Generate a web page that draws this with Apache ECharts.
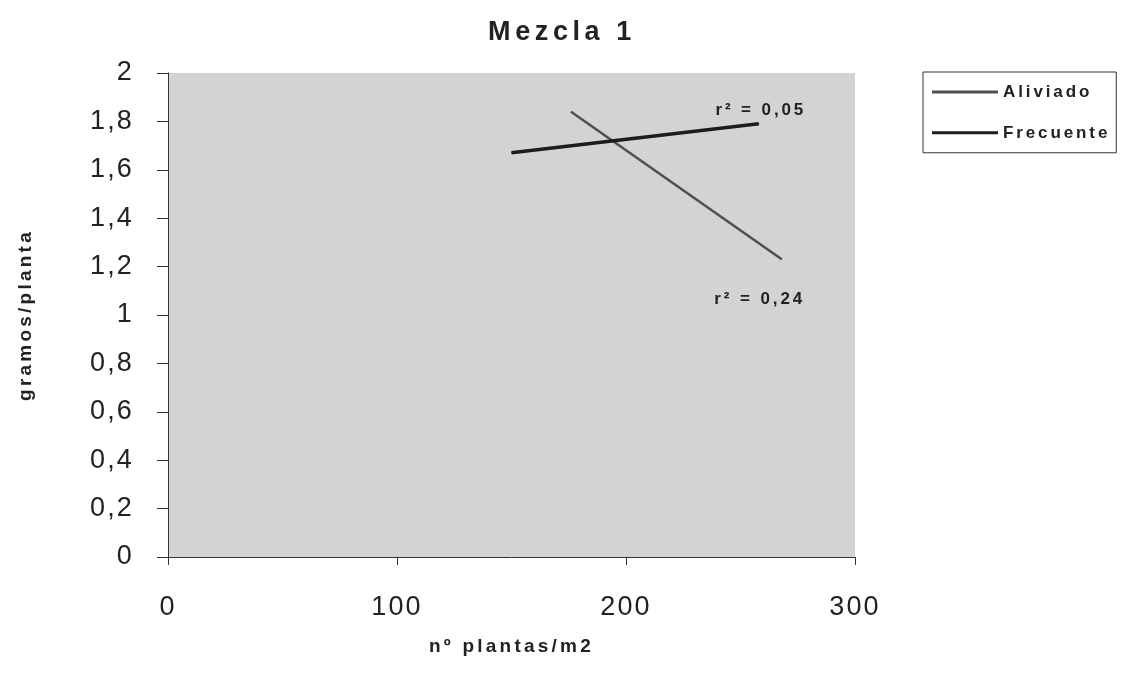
<!DOCTYPE html>
<html>
<head>
<meta charset="utf-8">
<script src="https://cdn.jsdelivr.net/npm/echarts@6/dist/echarts.min.js"></script>
<style>
  html, body { margin: 0; padding: 0; background: #fff; }
  #chart { width: 1124px; height: 692px; }
</style>
</head>
<body>
<div id="chart"></div>
<script>
// Regression lines: plant density (plants/m2) vs. grams per plant
const seriesNames = ['Aliviado', 'Frecuente'];
const aliviadoX = [176, 268];
const aliviadoY = [1.84, 1.23];
const frecuenteX = [150, 258];
const frecuenteY = [1.67, 1.79];
const r2Labels = ['0,24', '0,05'];
const xTicks = [0, 100, 200, 300];
const yTickStep = 0.2;

// Wide tracking for all canvas text, proportional to the font size
(function () {
  const P = CanvasRenderingContext2D.prototype;
  if (!('letterSpacing' in P)) return;
  const track = ctx => {
    const m = /(\d+(?:\.\d+)?)px/.exec(ctx.font);
    const bold = /bold|[6-9]00/.test(ctx.font);
    if (m) ctx.letterSpacing = (parseFloat(m[1]) * (bold ? 0.17 : 0.08)).toFixed(2) + 'px';
  };
  ['fillText', 'strokeText', 'measureText'].forEach(fn => {
    const orig = P[fn];
    P[fn] = function () { track(this); return orig.apply(this, arguments); };
  });
})();

const FONT = "'Liberation Sans', Arial, sans-serif";
const pairs = (xs, ys) => xs.map((x, i) => [x, ys[i]]);

// Only the last point of each line carries its r² note
function withEndLabel(points, text, labelOpt) {
  return points.map((p, i) => i === points.length - 1
    ? { value: p, label: Object.assign({ show: true, formatter: 'r\u00B2 = ' + text }, labelOpt) }
    : { value: p });
}

const chart = echarts.init(document.getElementById('chart'), null, { renderer: 'canvas' });

chart.setOption({
  backgroundColor: '#ffffff',
  animation: false,
  title: {
    text: 'Mezcla 1',
    left: 'center',
    top: 12,
    textStyle: { fontFamily: FONT, fontSize: 27, fontWeight: 'bold', color: '#222' }
  },
  legend: {
    orient: 'vertical',
    left: 923,
    top: 72,
    data: seriesNames,
    icon: 'rect',
    itemWidth: 66,
    itemHeight: 3,
    itemGap: 21,
    padding: [10, 6, 10, 9],
    borderColor: '#333',
    borderWidth: 1,
    textStyle: { fontFamily: FONT, fontSize: 17, fontWeight: 'bold', color: '#222' }
  },
  grid: {
    left: 168, top: 73, right: 269, bottom: 135,
    show: true,
    backgroundColor: '#d3d3d3',
    borderWidth: 0
  },
  xAxis: {
    type: 'value',
    min: xTicks[0],
    max: xTicks[xTicks.length - 1],
    interval: xTicks[1] - xTicks[0],
    name: 'n\u00BA plantas/m2',
    nameLocation: 'middle',
    nameGap: 79,
    nameTextStyle: { fontFamily: FONT, fontSize: 19, fontWeight: 'bold', color: '#222' },
    axisLine: { show: true, lineStyle: { color: '#333', width: 1 } },
    axisTick: { show: true, length: 8, lineStyle: { color: '#333' } },
    axisLabel: { margin: 36, fontFamily: FONT, fontSize: 27, color: '#222' },
    splitLine: { show: false }
  },
  yAxis: {
    type: 'value',
    min: 0,
    max: 2,
    interval: yTickStep,
    name: 'gramos/planta',
    nameLocation: 'middle',
    nameGap: 131,
    nameTextStyle: { fontFamily: FONT, fontSize: 19, fontWeight: 'bold', color: '#222' },
    axisLine: { show: true, lineStyle: { color: '#333', width: 1 } },
    axisTick: { show: true, length: 11, lineStyle: { color: '#333' } },
    axisLabel: {
      margin: 34, fontFamily: FONT, fontSize: 27, color: '#222',
      formatter: v => String(+v.toFixed(1)).replace('.', ',')
    },
    splitLine: { show: false }
  },
  series: [
    {
      name: seriesNames[0],
      type: 'line',
      symbol: 'circle',
      symbolSize: 1,
      showSymbol: true,
      color: '#505050',
      itemStyle: { color: '#505050' },
      lineStyle: { color: '#505050', width: 2.5 },
      data: withEndLabel(pairs(aliviadoX, aliviadoY), r2Labels[0], {
        position: 'bottom', distance: 30, offset: [-22, 0],
        fontFamily: FONT, fontSize: 17, fontWeight: 'bold', color: '#222'
      })
    },
    {
      name: seriesNames[1],
      type: 'line',
      symbol: 'circle',
      symbolSize: 1,
      showSymbol: true,
      color: '#1c1c1c',
      itemStyle: { color: '#1c1c1c' },
      lineStyle: { color: '#1c1c1c', width: 3.5 },
      data: withEndLabel(pairs(frecuenteX, frecuenteY), r2Labels[1], {
        position: 'top', distance: 3, offset: [2, 0],
        fontFamily: FONT, fontSize: 17, fontWeight: 'bold', color: '#222'
      })
    }
  ]
});
</script>
</body>
</html>
